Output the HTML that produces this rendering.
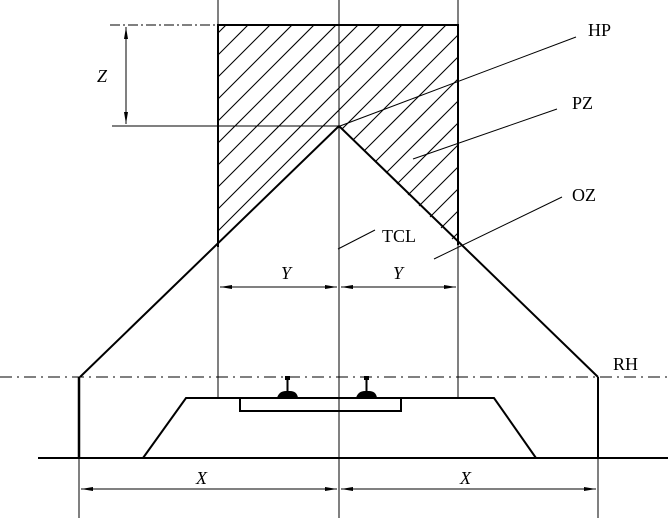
<!DOCTYPE html>
<html><head><style>
body{margin:0;background:#fff;}
svg{display:block;}
text{font-family:"Liberation Serif",serif;font-size:18px;fill:#000;}
</style></head><body>
<svg width="668" height="518" viewBox="0 0 668 518" xmlns="http://www.w3.org/2000/svg">
<defs>
<clipPath id="c"><polygon points="218,25 458,25 458,245 339,126 218,247"/></clipPath>
<marker id="a" markerWidth="12" markerHeight="6" refX="12" refY="3" orient="auto-start-reverse" markerUnits="userSpaceOnUse"><path d="M0,1 L12,3 L0,5 z" fill="#000"/></marker>
</defs>
<g clip-path="url(#c)" stroke="#000" stroke-width="1.1">
<g transform="translate(11,0)">
<line x1="-60" y1="300" x2="240" y2="0"/><line x1="-38" y1="300" x2="262" y2="0"/><line x1="-16" y1="300" x2="284" y2="0"/><line x1="6" y1="300" x2="306" y2="0"/><line x1="28" y1="300" x2="328" y2="0"/><line x1="50" y1="300" x2="350" y2="0"/><line x1="72" y1="300" x2="372" y2="0"/><line x1="94" y1="300" x2="394" y2="0"/><line x1="116" y1="300" x2="416" y2="0"/><line x1="138" y1="300" x2="438" y2="0"/><line x1="160" y1="300" x2="460" y2="0"/><line x1="182" y1="300" x2="482" y2="0"/><line x1="204" y1="300" x2="504" y2="0"/><line x1="226" y1="300" x2="526" y2="0"/><line x1="248" y1="300" x2="548" y2="0"/><line x1="270" y1="300" x2="570" y2="0"/><line x1="292" y1="300" x2="592" y2="0"/><line x1="314" y1="300" x2="614" y2="0"/><line x1="336" y1="300" x2="636" y2="0"/><line x1="358" y1="300" x2="658" y2="0"/><line x1="380" y1="300" x2="680" y2="0"/><line x1="402" y1="300" x2="702" y2="0"/><line x1="424" y1="300" x2="724" y2="0"/><line x1="446" y1="300" x2="746" y2="0"/><line x1="468" y1="300" x2="768" y2="0"/>
</g>
</g>
<g stroke="#000" fill="none">
<line x1="218" y1="0" x2="218" y2="398" stroke-width="1"/>
<line x1="458" y1="0" x2="458" y2="398" stroke-width="1"/>
<line x1="339" y1="0" x2="339" y2="518" stroke-width="1"/>
<polyline points="218,247 218,25 458,25 458,245" stroke-width="2"/>
<polyline points="80,377 339,126 598,377" stroke-width="2"/>
<line x1="110" y1="25" x2="218" y2="25" stroke-width="1" stroke-dasharray="10,3,2,3"/>
<line x1="112" y1="126" x2="339" y2="126" stroke-width="1"/>
<line x1="126" y1="27" x2="126" y2="124" stroke-width="1" marker-start="url(#a)" marker-end="url(#a)"/>
<line x1="0" y1="377" x2="668" y2="377" stroke-width="1" stroke-dasharray="12,5,2,5"/>
<line x1="79" y1="377" x2="79" y2="458" stroke-width="2.5"/>
<line x1="79" y1="458" x2="79" y2="518" stroke-width="1"/>
<line x1="598" y1="377" x2="598" y2="458" stroke-width="2"/>
<line x1="598" y1="458" x2="598" y2="518" stroke-width="1"/>
<line x1="38" y1="458" x2="668" y2="458" stroke-width="2"/>
<polyline points="143,458 186,398 494,398 536,458" stroke-width="2"/>
<rect x="240" y="398" width="161" height="13" stroke-width="2"/>
<line x1="220" y1="287" x2="337" y2="287" stroke-width="1" marker-start="url(#a)" marker-end="url(#a)"/>
<line x1="341" y1="287" x2="456" y2="287" stroke-width="1" marker-start="url(#a)" marker-end="url(#a)"/>
<line x1="81" y1="489" x2="337" y2="489" stroke-width="1" marker-start="url(#a)" marker-end="url(#a)"/>
<line x1="341" y1="489" x2="596" y2="489" stroke-width="1" marker-start="url(#a)" marker-end="url(#a)"/>
<line x1="340" y1="126" x2="576" y2="37" stroke-width="1"/>
<line x1="413" y1="159" x2="557" y2="109" stroke-width="1"/>
<line x1="434" y1="259" x2="562" y2="197" stroke-width="1"/>
<line x1="338" y1="249" x2="375" y2="230" stroke-width="1"/>
</g>
<g fill="#000">
<rect x="285" y="376" width="5" height="4"/><rect x="286.5" y="379" width="2" height="13"/>
<path d="M277,398 Q279,391 286,391 L290,391 Q297,391 298,398 z"/>
<rect x="364" y="376" width="5" height="4"/><rect x="365.5" y="379" width="2" height="13"/>
<path d="M356,398 Q358,391 365,391 L369,391 Q376,391 377,398 z"/>
</g>
<text x="588" y="36">HP</text>
<text x="572" y="109">PZ</text>
<text x="572" y="201">OZ</text>
<text x="382" y="242">TCL</text>
<text x="613" y="370">RH</text>
<text x="97" y="82" font-style="italic">Z</text>
<text x="281" y="279" font-style="italic">Y</text>
<text x="393" y="279" font-style="italic">Y</text>
<text x="196" y="484" font-style="italic">X</text>
<text x="460" y="484" font-style="italic">X</text>
</svg>
</body></html>
